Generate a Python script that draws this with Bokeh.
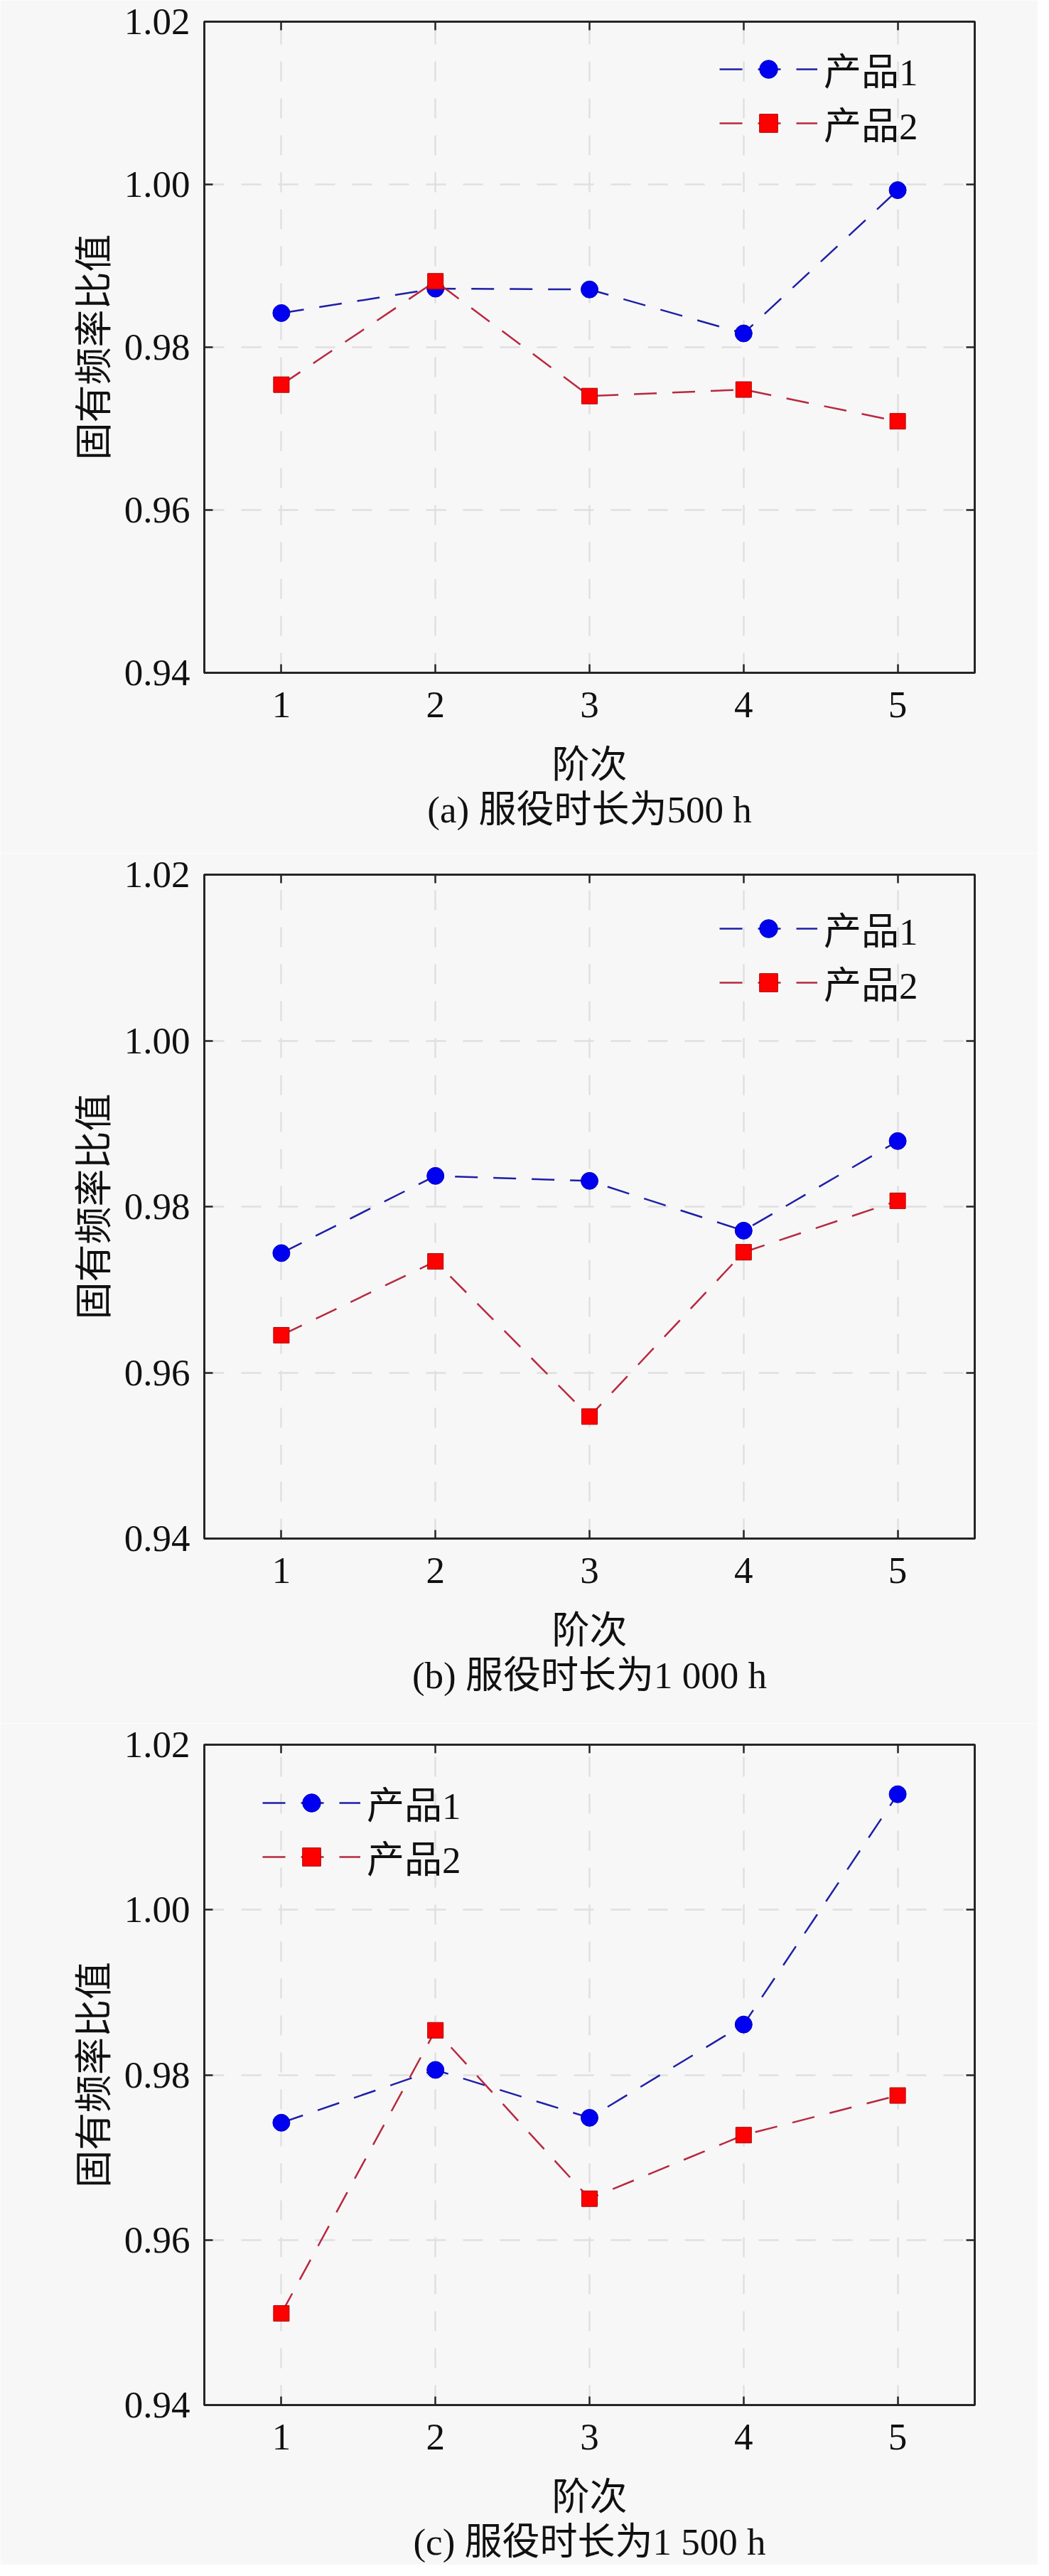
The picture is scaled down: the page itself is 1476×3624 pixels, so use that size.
from bokeh.plotting import figure
from bokeh.models import LinearAxis, FixedTicker, Range1d, Legend, LegendItem
from bokeh.layouts import column
from bokeh.embed import file_html
from bokeh.resources import INLINE

# ---------------- data ----------------
orders = [1, 2, 3, 4, 5]
y_ticks = [0.94, 0.96, 0.98, 1.00, 1.02]
series_names = ["产品1", "产品2"]

a_p1 = [0.9842, 0.9872, 0.9871, 0.9817, 0.9993]
a_p2 = [0.9754, 0.9881, 0.9740, 0.9748, 0.9709]
b_p1 = [0.9744, 0.9837, 0.9831, 0.9771, 0.9879]
b_p2 = [0.9645, 0.9734, 0.9547, 0.9745, 0.9807]
c_p1 = [0.9742, 0.9806, 0.9748, 0.9861, 1.0140]
c_p2 = [0.9511, 0.9854, 0.9650, 0.9727, 0.9775]

captions = ["(a) 服役时长为500 h", "(b) 服役时长为1 000 h", "(c) 服役时长为1 500 h"]
x_label = "阶次"
y_label = "固有频率比值"

# ---------------- style ----------------
FONT = "Liberation Serif, Noto Sans CJK SC"
FS = "53px"
BG = "#f7f7f7"
AX = "#262626"
BLUE_LINE = "#1e1ea8"
RED_LINE = "#b8283f"


def style_axis(ax, ticks, labels=True):
    ax.ticker = FixedTicker(ticks=ticks)
    ax.axis_line_color = AX
    ax.axis_line_width = 3
    ax.major_tick_in = 12
    ax.major_tick_out = 0
    ax.major_tick_line_color = AX
    ax.major_tick_line_width = 2.5
    ax.minor_tick_line_color = None
    ax.major_label_text_font = FONT
    ax.major_label_text_color = "#111111"
    if labels:
        ax.major_label_text_font_size = FS
    else:
        ax.major_label_text_font_size = "0px"
        ax.major_label_standoff = 0
        ax.major_label_overrides = {t: "" for t in ticks}


def make_panel(p1, p2, caption, height, bt, bb, legend_loc, legend_spacing):
    p = figure(width=1460, height=height,
               x_range=Range1d(0.5, 5.5), y_range=Range1d(0.94, 1.02),
               output_backend="svg", toolbar_location=None,
               min_border_left=287, min_border_right=89,
               min_border_top=bt, min_border_bottom=bb,
               background_fill_color=BG, border_fill_color=BG,
               outline_line_color=AX, outline_line_width=3)

    xa = p.xaxis[0]
    style_axis(xa, orders)
    xa.major_label_standoff = 27
    xa.axis_label = x_label
    xa.axis_label_text_font = FONT
    xa.axis_label_text_font_size = FS
    xa.axis_label_text_font_style = "normal"
    xa.axis_label_text_color = "#111111"
    xa.axis_label_standoff = 35

    ya = p.yaxis[0]
    style_axis(ya, y_ticks)
    ya.major_label_overrides = {t: "%.2f" % t for t in y_ticks}
    ya.major_label_standoff = 20
    ya.axis_label = y_label
    ya.axis_label_text_font = FONT
    ya.axis_label_text_font_size = FS
    ya.axis_label_text_font_style = "normal"
    ya.axis_label_text_color = "#111111"
    ya.axis_label_standoff = 10

    # caption as a label-only axis below the x axis
    cap = LinearAxis(ticker=FixedTicker(ticks=[]), axis_label=caption,
                     axis_line_color=None, major_tick_line_color=None,
                     minor_tick_line_color=None, major_label_standoff=0,
                     major_tick_in=0, major_tick_out=0,
                     minor_tick_in=0, minor_tick_out=0,
                     axis_label_standoff=2,
                     axis_label_text_font=FONT, axis_label_text_font_size=FS,
                     axis_label_text_font_style="normal",
                     axis_label_text_color="#111111")
    p.add_layout(cap, "below")

    # mirrored inward ticks on top and right
    top = LinearAxis()
    style_axis(top, orders, labels=False)
    p.add_layout(top, "above")
    right = LinearAxis()
    style_axis(right, y_ticks, labels=False)
    p.add_layout(right, "right")

    for g in (p.xgrid[0], p.ygrid[0]):
        g.grid_line_color = "#e0e0e0"
        g.grid_line_width = 2.5
        g.grid_line_dash = "28 24"

    l1 = p.line(orders, p1, line_color=BLUE_LINE, line_width=2.5, line_dash="32 22")
    m1 = p.scatter(orders, p1, marker="circle", size=24,
                   fill_color="#0000f0", line_color="#0000c0", line_width=1)
    l2 = p.line(orders, p2, line_color=RED_LINE, line_width=2.5, line_dash="32 22")
    m2 = p.scatter(orders, p2, marker="square", size=22,
                   fill_color="#ff0000", line_color="#a80000", line_width=1)

    legend = Legend(items=[LegendItem(label=series_names[0], renderers=[l1, m1]),
                           LegendItem(label=series_names[1], renderers=[l2, m2])],
                    location=legend_loc, glyph_width=138, glyph_height=64,
                    label_height=64, label_standoff=9, padding=10,
                    spacing=legend_spacing,
                    margin=0, border_line_color=None, background_fill_alpha=0,
                    label_text_font=FONT, label_text_font_size=FS,
                    label_text_color="#111111")
    p.add_layout(legend)
    return p


pa = make_panel(a_p1, a_p2, captions[0], 1200, 30, 254, (725, 735), -12)
pb = make_panel(b_p1, b_p2, captions[1], 1224, 30, 260, (725, 744), -11)
pc = make_panel(c_p1, c_p2, captions[2], 1184, 30, 225, (82, 733), -11)

layout = column(pa, pb, pc, spacing=0)
open("out.html", "w").write(file_html(layout, INLINE))
